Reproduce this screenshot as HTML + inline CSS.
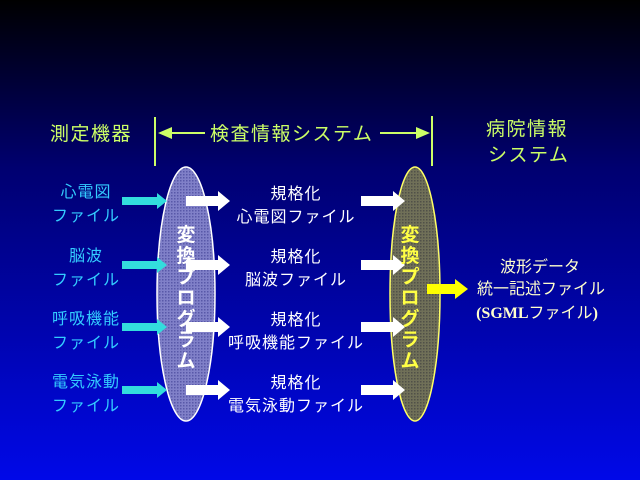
<!DOCTYPE html>
<html><head><meta charset="utf-8"><style>
html,body{margin:0;padding:0;background:#000;}
svg{display:block;}
text{font-family:"Liberation Sans","Noto Sans CJK JP",sans-serif;}
</style></head><body>
<svg width="640" height="480" viewBox="0 0 640 480" xmlns="http://www.w3.org/2000/svg">
<defs>
<linearGradient id="bg" x1="0" y1="0" x2="0" y2="1">
<stop offset="0" stop-color="#000000"/>
<stop offset="0.35" stop-color="#000070"/>
<stop offset="1" stop-color="#0008e8"/>
</linearGradient>
<pattern id="p1" width="3" height="3" patternUnits="userSpaceOnUse">
<rect width="3" height="3" fill="#8080c8"/><rect width="1.5" height="1.5" fill="#5858a8"/>
</pattern>
<pattern id="p2" width="3" height="3" patternUnits="userSpaceOnUse">
<rect width="3" height="3" fill="#707058"/><rect width="1.5" height="1.5" fill="#505048"/>
</pattern>
</defs>
<rect width="640" height="480" fill="url(#bg)"/>

<!-- header -->
<g fill="#ccff66" font-size="19" letter-spacing="1.5">
<text x="50" y="140">測定機器</text>
<text x="210" y="140">検査情報システム</text>
<text x="486" y="135">病院情報</text>
<text x="488" y="161">システム</text>
</g>
<g stroke="#ccff66" stroke-width="2" fill="none">
<line x1="155" y1="117" x2="155" y2="166"/>
<line x1="162" y1="133" x2="205" y2="133"/>
<line x1="380" y1="133" x2="424" y2="133"/>
<line x1="432" y1="116" x2="432" y2="166"/>
</g>
<polygon points="158,133 172,127 172,139" fill="#ccff66"/>
<polygon points="430,133 416,127 416,139" fill="#ccff66"/>

<!-- left ellipse -->
<ellipse cx="186" cy="294" rx="29" ry="127" fill="url(#p1)" stroke="#ffffff" stroke-width="1.5"/>

<!-- cyan arrows -->
<g fill="#33dddd">
<polygon points="122,197 157,197 157,193 167,201 157,209 157,205 122,205"/>
<polygon points="122,261 157,261 157,257 167,265 157,273 157,269 122,269"/>
<polygon points="122,323 157,323 157,319 167,327 157,335 157,331 122,331"/>
<polygon points="122,386 157,386 157,382 167,390 157,398 157,394 122,394"/>
</g>

<g fill="#ffffff" font-size="19" font-weight="bold" text-anchor="middle">
<text x="186" y="241">変</text><text x="186" y="262">換</text><text x="186" y="283">プ</text><text x="186" y="304">ロ</text><text x="186" y="325">グ</text><text x="186" y="346">ラ</text><text x="186" y="367">ム</text>
</g>

<!-- right ellipse -->
<ellipse cx="415" cy="294" rx="25" ry="127" fill="url(#p2)" stroke="#ffff66" stroke-width="1.5"/>

<!-- white arrows -->
<g fill="#ffffff">
<polygon points="186,196 218,196 218,191 230,201 218,211 218,206 186,206"/>
<polygon points="186,260 218,260 218,255 230,265 218,275 218,270 186,270"/>
<polygon points="186,322 218,322 218,317 230,327 218,337 218,332 186,332"/>
<polygon points="186,385 218,385 218,380 230,390 218,400 218,395 186,395"/>
<polygon points="361,196 393,196 393,191 405,201 393,211 393,206 361,206"/>
<polygon points="361,260 393,260 393,255 405,265 393,275 393,270 361,270"/>
<polygon points="361,322 393,322 393,317 405,327 393,337 393,332 361,332"/>
<polygon points="361,385 393,385 393,380 405,390 393,400 393,395 361,395"/>
</g>

<g fill="#ffff44" font-size="19" font-weight="bold" text-anchor="middle">
<text x="410" y="241">変</text><text x="410" y="262">換</text><text x="410" y="283">プ</text><text x="410" y="304">ロ</text><text x="410" y="325">グ</text><text x="410" y="346">ラ</text><text x="410" y="367">ム</text>
</g>
<polygon points="427,284 455,284 455,279 468,289 455,299 455,294 427,294" fill="#ffff00"/>

<!-- cyan labels -->
<g fill="#33ccff" font-size="16" text-anchor="middle" letter-spacing="1">
<text x="86" y="197">心電図</text><text x="86" y="221">ファイル</text>
<text x="86" y="261">脳波</text><text x="86" y="285">ファイル</text>
<text x="86" y="324">呼吸機能</text><text x="86" y="348">ファイル</text>
<text x="86" y="387">電気泳動</text><text x="86" y="411">ファイル</text>
</g>

<!-- middle labels -->
<g fill="#ffffff" font-size="16" text-anchor="middle" letter-spacing="1">
<text x="296" y="199">規格化</text><text x="296" y="222">心電図ファイル</text>
<text x="296" y="262">規格化</text><text x="296" y="285">脳波ファイル</text>
<text x="296" y="325">規格化</text><text x="296" y="348">呼吸機能ファイル</text>
<text x="296" y="388">規格化</text><text x="296" y="411">電気泳動ファイル</text>
</g>

<!-- right labels -->
<g fill="#ffffcc" font-size="16" text-anchor="middle">
<text x="540" y="272">波形データ</text>
<text x="541" y="294">統一記述ファイル</text>
<text x="537" y="318"><tspan font-family="Liberation Serif" font-weight="bold">(SGML</tspan>ファイル<tspan font-family="Liberation Serif" font-weight="bold">)</tspan></text>
</g>
</svg>
</body></html>
